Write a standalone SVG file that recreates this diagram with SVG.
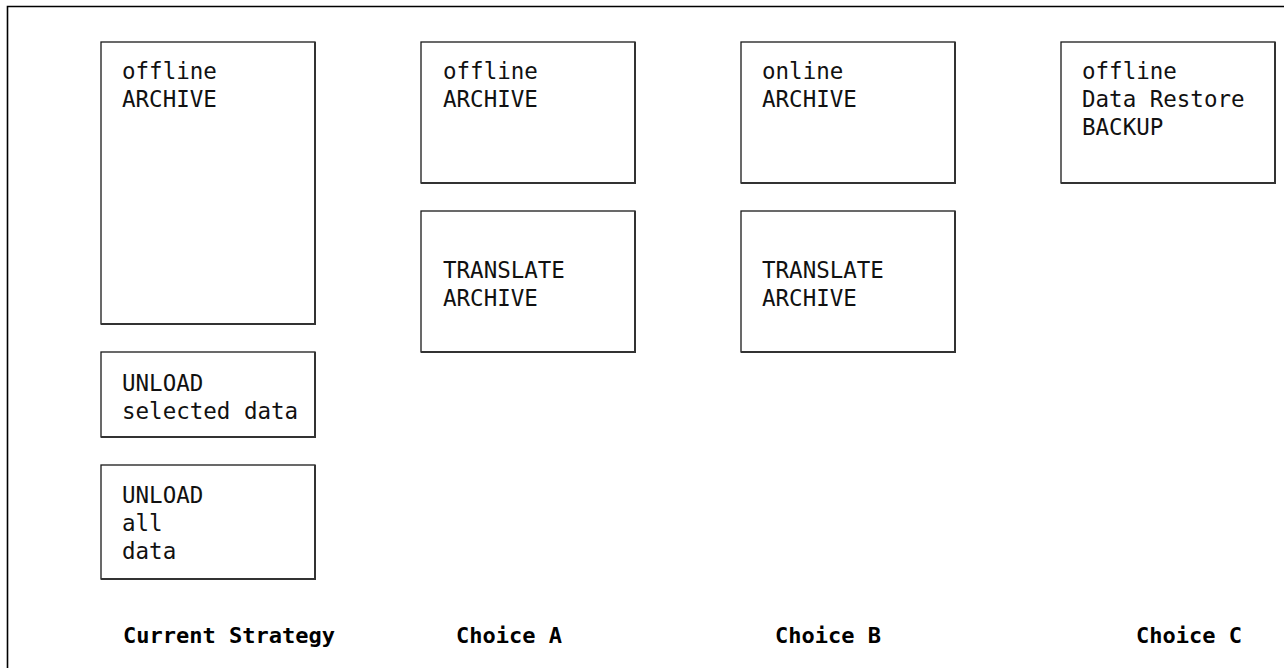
<svg xmlns="http://www.w3.org/2000/svg" width="1284" height="668" viewBox="0 0 1284 668">
<style>
.box{fill:#fff;stroke:#1a1a1a;stroke-width:1.3}
.sh{fill:none;stroke:#333;stroke-width:2}
.t{font-family:"DejaVu Sans Mono","Liberation Mono",monospace;font-size:22.5px;fill:#111}
.h{font-family:"DejaVu Sans Mono","Liberation Mono",monospace;font-size:22px;font-weight:bold;fill:#000}
</style>
<rect width="1284" height="668" fill="#fff"/>
<path d="M7.5,668 V6.5 H1284" fill="none" stroke="#000" stroke-width="1.6"/>
<g id="cur-archive">
<rect class="box" x="101" y="42" width="214" height="282"/>
<path class="sh" d="M315,42 V324 H101"/>
<text class="t" x="122" y="79">offline</text>
<text class="t" x="122" y="107">ARCHIVE</text>
</g>
<g id="cur-unload-sel">
<rect class="box" x="101" y="352" width="214" height="85"/>
<path class="sh" d="M315,352 V437 H101"/>
<text class="t" x="122" y="391">UNLOAD</text>
<text class="t" x="122" y="419">selected data</text>
</g>
<g id="cur-unload-all">
<rect class="box" x="101" y="465" width="214" height="114"/>
<path class="sh" d="M315,465 V579 H101"/>
<text class="t" x="122" y="503">UNLOAD</text>
<text class="t" x="122" y="531">all</text>
<text class="t" x="122" y="559">data</text>
</g>
<g id="a-archive">
<rect class="box" x="421" y="42" width="214" height="141"/>
<path class="sh" d="M635,42 V183 H421"/>
<text class="t" x="443" y="79">offline</text>
<text class="t" x="443" y="107">ARCHIVE</text>
</g>
<g id="a-translate">
<rect class="box" x="421" y="211" width="214" height="141"/>
<path class="sh" d="M635,211 V352 H421"/>
<text class="t" x="443" y="278">TRANSLATE</text>
<text class="t" x="443" y="306">ARCHIVE</text>
</g>
<g id="b-archive">
<rect class="box" x="741" y="42" width="214" height="141"/>
<path class="sh" d="M955,42 V183 H741"/>
<text class="t" x="762" y="79">online</text>
<text class="t" x="762" y="107">ARCHIVE</text>
</g>
<g id="b-translate">
<rect class="box" x="741" y="211" width="214" height="141"/>
<path class="sh" d="M955,211 V352 H741"/>
<text class="t" x="762" y="278">TRANSLATE</text>
<text class="t" x="762" y="306">ARCHIVE</text>
</g>
<g id="c-backup">
<rect class="box" x="1061" y="42" width="214" height="141"/>
<path class="sh" d="M1275,42 V183 H1061"/>
<text class="t" x="1082" y="79">offline</text>
<text class="t" x="1082" y="107">Data Restore</text>
<text class="t" x="1082" y="135">BACKUP</text>
</g>
<g id="labels">
<text class="h" x="123" y="643">Current Strategy</text>
<text class="h" x="456" y="643">Choice A</text>
<text class="h" x="775" y="643">Choice B</text>
<text class="h" x="1136" y="643">Choice C</text>
</g>
<g id="connectors"></g>
</svg>
